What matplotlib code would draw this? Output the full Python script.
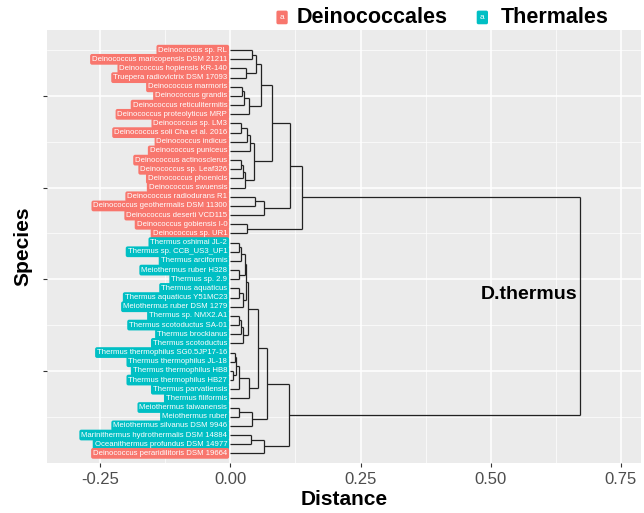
import matplotlib.pyplot as plt
from matplotlib.ticker import MultipleLocator

plt.rcParams['font.family'] = ['Liberation Sans', 'DejaVu Sans']

# leaves, top to bottom
species = [
    'Deinococcus sp. RL', 'Deinococcus maricopensis DSM 21211',
    'Deinococcus hopiensis KR-140', 'Truepera radiovictrix DSM 17093',
    'Deinococcus marmoris', 'Deinococcus grandis',
    'Deinococcus reticulitermitis', 'Deinococcus proteolyticus MRP',
    'Deinococcus sp. LM3', 'Deinococcus soli Cha et al. 2016',
    'Deinococcus indicus', 'Deinococcus puniceus',
    'Deinococcus actinosclerus', 'Deinococcus sp. Leaf326',
    'Deinococcus phoenicis', 'Deinococcus swuensis',
    'Deinococcus radiodurans R1', 'Deinococcus geothermalis DSM 11300',
    'Deinococcus deserti VCD115', 'Deinococcus gobiensis I-0',
    'Deinococcus sp. UR1',
    'Thermus oshimai JL-2', 'Thermus sp. CCB_US3_UF1', 'Thermus arciformis',
    'Meiothermus ruber H328', 'Thermus sp. 2.9', 'Thermus aquaticus',
    'Thermus aquaticus Y51MC23', 'Meiothermus ruber DSM 1279',
    'Thermus sp. NMX2.A1', 'Thermus scotoductus SA-01', 'Thermus brockianus',
    'Thermus scotoductus', 'Thermus thermophilus SG0.5JP17-16',
    'Thermus thermophilus JL-18', 'Thermus thermophilus HB8',
    'Thermus thermophilus HB27', 'Thermus parvatiensis', 'Thermus filiformis',
    'Meiothermus taiwanensis', 'Meiothermus ruber',
    'Meiothermus silvanus DSM 9946', 'Marinithermus hydrothermalis DSM 14884',
    'Oceanithermus profundus DSM 14977', 'Deinococcus peraridilitoris DSM 19664',
]
groups = ['Deinococcales'] * 21 + ['Thermales'] * 23 + ['Deinococcales']
group_colors = {'Deinococcales': '#F8766D', 'Thermales': '#00BFC4'}

# tree: (left, right, height), leaves are indices into species
deino_a = (((0, 1, 0.042), (2, 3, 0.030), 0.049),
           (((4, 5, 0.022), 6, 0.027), 7, 0.035), 0.058)
deino_b = ((((8, 9, 0.021), 10, 0.032), 11, 0.037),
           (((12, 13, 0.021), 14, 0.025), 15, 0.029), 0.045)
deino_c = ((16, 17, 0.048), 18, 0.064)
deino_d = (19, 20, 0.032)
deino = (((deino_a, deino_b, 0.080), deino_c, 0.115), deino_d, 0.138)

th_1 = (((21, 22, 0.016), 23, 0.021), (24, 25, 0.016), 0.029)
th_2 = ((26, 27, 0.016), 28, 0.025)
th_3 = (((29, 30, 0.016), 31, 0.021), 32, 0.025)
th_up = ((th_1, th_2, 0.030), th_3, 0.033)
th_low = ((((33, 34, 0.008), (35, 36, 0.006), 0.011), 37, 0.016), 38, 0.035)
th_meio = ((39, 40, 0.017), 41, 0.042)
th_rest = ((42, 43, 0.040), 44, 0.064)
thermus = (((th_up, th_low, 0.053), th_meio, 0.071), th_rest, 0.112)
tree = (deino, thermus, 0.671)

n = len(species)
segments = []


def walk(node):
    if isinstance(node, int):
        return n - node, 0.0
    left, right, h = node
    y1, h1 = walk(left)
    y2, h2 = walk(right)
    segments.append(((h, h), (y1, y2)))
    segments.append(((h1, h), (y1, y1)))
    segments.append(((h2, h), (y2, y2)))
    return (y1 + y2) / 2, h


walk(tree)

fig = plt.figure(figsize=(6.44, 5.13), dpi=100)
ax = fig.add_axes([0.073, 0.0975, 0.922, 0.844])
ax.set_facecolor('#EBEBEB')

for xs, ys in segments:
    ax.plot(xs, ys, color='#222222', lw=0.9, solid_capstyle='butt')

for i, name in enumerate(species):
    ax.text(-0.006, n - i, name, ha='right', va='center', fontsize=5.6,
            color='white',
            bbox=dict(boxstyle='round,pad=0.24,rounding_size=0.25',
                      fc=group_colors[groups[i]], ec='none'))

ax.text(0.667, 18.3, 'D.thermus', ha='right', va='center', fontsize=14,
        fontweight='bold')

ax.set_xlim(-0.352, 0.788)
ax.set_ylim(-0.05, 47.2)
ax.set_xticks([-0.25, 0, 0.25, 0.5, 0.75])
ax.set_xticklabels(['-0.25', '0.00', '0.25', '0.50', '0.75'])
ax.xaxis.set_minor_locator(MultipleLocator(0.125))
ax.set_yticks([10, 20, 30, 40])
ax.set_yticklabels([])
ax.yaxis.set_minor_locator(MultipleLocator(5))
ax.grid(which='major', color='white', lw=1.1)
ax.grid(which='minor', color='white', lw=0.5)
ax.set_axisbelow(True)
ax.tick_params(which='major', length=3, color='#333333', labelsize=12,
               labelcolor='#4D4D4D')
ax.tick_params(which='minor', length=0)
for s in ax.spines.values():
    s.set_visible(False)

ax.set_xlabel('Distance', fontsize=15, fontweight='bold', labelpad=2)
ax.set_ylabel('Species', fontsize=15, fontweight='bold', labelpad=4)

# legend on top
legend_items = [('Deinococcales', 0.438, 0.460), ('Thermales', 0.749, 0.778)]
for label, kx, tx in legend_items:
    fig.text(kx, 0.966, 'a', ha='center', va='center', fontsize=6,
             color='white',
             bbox=dict(boxstyle='round,pad=0.4,rounding_size=0.2',
                       fc=group_colors[label], ec='none'))
    fig.text(tx, 0.966, label, ha='left', va='center', fontsize=15.5,
             fontweight='bold')

plt.savefig('out.png', dpi=100)
